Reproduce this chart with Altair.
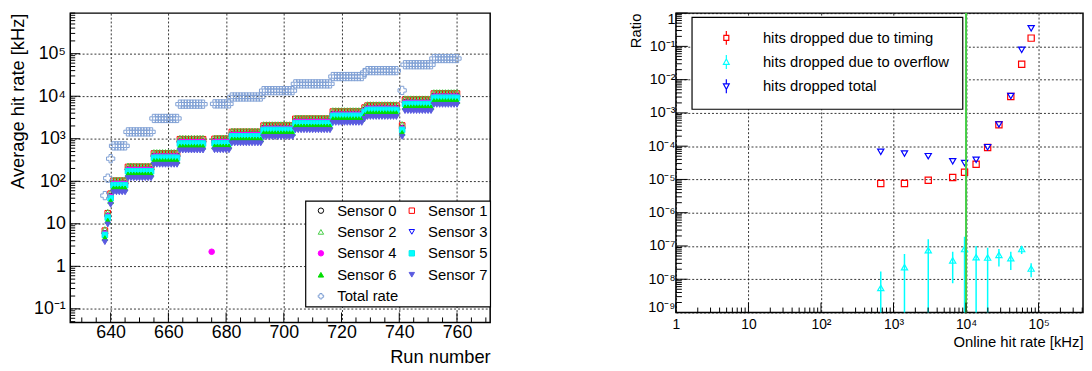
import altair as alt
import pandas as pd

# ---------------- left panel: average hit rate per run ----------------
RUN_START = [638, 639, 640, 641, 646, 655, 664, 676, 682, 693, 704, 717, 728, 729, 741, 742, 752]
RUN_END = [638, 639, 640, 645, 654, 663, 672, 681, 692, 703, 716, 727, 728, 739, 741, 751, 760]
TOTAL_RATE = [46, 118, 340, 680, 1450, 3000, 6500, 6600, 9600, 13500, 19500, 29000, 36000, 40000, 13700, 55000, 77000]
SENSOR_0 = [6.0, 15.5, 44.6, 89, 190, 394, 853, 866, 1260, 1775, 2560, 3810, 4725, 5250, 1795, 7220, 10100]
SENSOR_1 = [6.9, 17.7, 51, 102, 217, 450, 974, 990, 1440, 2030, 2930, 4350, 5400, 6000, 2050, 8250, 11550]
SENSOR_2 = [7.5, 19.2, 55, 110, 235, 488, 1055, 1073, 1560, 2200, 3170, 4710, 5850, 6500, 2220, 8940, 12500]
SENSOR_3 = [5.2, 13.3, 38, 76, 163, 338, 731, 743, 1080, 1520, 2200, 3260, 4050, 4500, 1540, 6190, 8660]
SENSOR_4 = [5.9, 15.0, 43.4, 87, 185, 383, 828, 842, 1224, 1724, 2489, 3698, 4590, 5100, 1744, 7013, 9818]
SENSOR_5 = [5.5, 14.0, 40, 81, 172, 356, 771, 784, 1140, 1605, 2320, 3440, 4275, 4750, 1625, 6530, 9140]
SENSOR_6 = [4.6, 11.8, 34, 68, 145, 300, 650, 660, 960, 1350, 1950, 2900, 3600, 4000, 1370, 5500, 7700]
SENSOR_7 = [3.7, 9.6, 28, 55, 118, 244, 528, 536, 780, 1100, 1585, 2360, 2925, 3250, 1110, 4470, 6260]
EXTRA_RUN = [675]
EXTRA_SERIES = ["Sensor 4"]
EXTRA_VALUE = [2.2]

SERIES = ["Sensor 0", "Sensor 1", "Sensor 2", "Sensor 3", "Sensor 4",
          "Sensor 5", "Sensor 6", "Sensor 7", "Total rate"]
SERIES_VALUES = [SENSOR_0, SENSOR_1, SENSOR_2, SENSOR_3, SENSOR_4,
                 SENSOR_5, SENSOR_6, SENSOR_7, TOTAL_RATE]
SHAPES = ["circle", "square", "triangle-up", "triangle-down", "circle",
          "square", "triangle-up", "triangle-down", "cross"]
STROKES = ["#000000", "#ff0000", "#44cc44", "#0000ff", "#ff00ff",
           "#00eeee", "#00dd00", "#5a5ae0", "#7f9fd4"]
FILLS = ["transparent", "transparent", "transparent", "transparent", "#ff00ff",
         "#00ffff", "#00dd00", "#5a5ae0", "transparent"]

X1_MAJOR = [640, 660, 680, 700, 720, 740, 760]
Y1_MAJOR = [0.1, 1, 10, 100, 1e3, 1e4, 1e5]
Y1_LABELS = ["10⁻¹", "1", "10", "10²", "10³", "10⁴", "10⁵"]

# ---------------- right panel: dropped-hit ratios ----------------
ONLINE_RATE = [667, 1416, 3013, 6546, 9540, 13770, 19850, 28400, 41400, 58500, 79000]
TIMING = [7.6e-6, 7.6e-6, 9.5e-6, 1.14e-5, 1.65e-5, 2.85e-5, 9.1e-5, 4.4e-4, 3.1e-3, 0.029, 0.177]
TOTAL_DROPPED = [6.8e-5, 6.0e-5, 5.0e-5, 3.5e-5, 3.1e-5, 3.9e-5, 9.3e-5, 4.5e-4, 3.2e-3, 0.079, 0.35]
OVERFLOW = [5.5e-9, 2.3e-8, 7.5e-8, 3.7e-8, 8.1e-8, 4.6e-8, 4.5e-8, 5.4e-8, 4.3e-8, 8.1e-8, 2.1e-8]
OVERFLOW_LO = [1e-10, 1e-10, 1e-10, 7.6e-9, 1e-10, 1e-10, 1e-10, 2.4e-8, 1.9e-8, 5.7e-8, 1.15e-8]
OVERFLOW_HI = [1.7e-8, 5.7e-8, 1.6e-7, 6.7e-8, 1.9e-7, 1.0e-7, 8.9e-8, 8.1e-8, 6.7e-8, 1.0e-7, 3.0e-8]
GREEN_LINE_X = [1e4]

KINDS = ["hits dropped due to timing", "hits dropped due to overflow", "hits dropped total"]
KIND_COLORS = ["#ff0000", "#00ffff", "#0000ff"]
KIND_SHAPES = ["square", "triangle-up", "triangle-down"]
# legend symbols: marker with its error-bar stem
KIND_LEGEND_SHAPES = [
    "M-0.36,-0.36L0.36,-0.36L0.36,0.36L-0.36,0.36Z M0,-1L0,-0.36 M0,0.36L0,1",
    "M0,-0.45L0.42,0.33L-0.42,0.33Z M0,-1L0,-0.45 M0,0.33L0,1",
    "M0,0.45L0.42,-0.33L-0.42,-0.33Z M0,1L0,0.45 M0,-0.33L0,-1",
]

X2_MAJOR = [1, 10, 100, 1e3, 1e4, 1e5]
X2_LABELS = ["1", "10", "10²", "10³", "10⁴", "10⁵"]
Y2_MAJOR = [1e-9, 1e-8, 1e-7, 1e-6, 1e-5, 1e-4, 1e-3, 1e-2, 1e-1, 1]
Y2_LABELS = ["10⁻⁹", "10⁻⁸", "10⁻⁷", "10⁻⁶", "10⁻⁵", "10⁻⁴", "10⁻³", "10⁻²", "10⁻¹", "1"]

FONT = "Liberation Sans"


def label_expr(values, labels):
    expr = f"'{labels[-1]}'"
    for v, lab in reversed(list(zip(values[:-1], labels[:-1]))):
        expr = f"datum.value < {v * 3.0!r} ? '{lab}' : ({expr})"
    return expr


def log_minor(dmin, dmax, d0, d1):
    return [k * 10.0 ** d for d in range(d0, d1) for k in range(2, 10)
            if dmin <= k * 10.0 ** d <= dmax]


# ---------- left panel ----------
W1, H1 = 425, 313
XDOM1 = [626, 771.5]
YDOM1 = [0.048, 9e5]

rows = []
for s, vals in zip(SERIES, SERIES_VALUES):
    for a, b, v in zip(RUN_START, RUN_END, vals):
        for r in range(a, b + 1):
            rows.append({"run": r, "value": v, "series": s})
for r, s, v in zip(EXTRA_RUN, EXTRA_SERIES, EXTRA_VALUE):
    rows.append({"run": r, "value": v, "series": s})
df1 = pd.DataFrame(rows)

X1 = alt.X("run:Q", scale=alt.Scale(domain=XDOM1, nice=False, zero=False),
           axis=alt.Axis(values=X1_MAJOR, title="Run number", labelFontSize=18,
                         labelPadding=1, titleFontSize=18.5, titleAnchor="end",
                         titleBaseline="top", titleY=26, grid=True))
Y1 = alt.Y("value:Q", scale=alt.Scale(type="log", domain=YDOM1, nice=False),
           axis=alt.Axis(values=Y1_MAJOR, labelExpr=label_expr(Y1_MAJOR, Y1_LABELS),
                         title="Average hit rate [kHz]", labelFontSize=18,
                         labelPadding=5, titleFontSize=18.5, titleAnchor="end",
                         titleAlign="right", titleX=-43, titleY=0, grid=True))

pts1 = alt.Chart(df1).mark_point(opacity=1, strokeWidth=1).encode(
    x=X1, y=Y1,
    shape=alt.Shape("series:N", scale=alt.Scale(domain=SERIES, range=SHAPES),
                    legend=alt.Legend(title=None, orient="none", legendX=238, legendY=190,
                                      direction="horizontal", columns=2, padding=2.2,
                                      rowPadding=5.7, columnPadding=0, symbolOffset=6,
                                      labelOffset=9, symbolSize=30, symbolStrokeWidth=1,
                                      labelFontSize=15, strokeColor="black",
                                      fillColor="white", labelLimit=300)),
    stroke=alt.Stroke("series:N", scale=alt.Scale(domain=SERIES, range=STROKES)),
    fill=alt.Fill("series:N", scale=alt.Scale(domain=SERIES, range=FILLS)),
    size=alt.condition("datum.series == 'Total rate'", alt.value(70), alt.value(32)),
)

x1_minor = pd.DataFrame({"run": [v for v in range(630, 771, 5) if v % 20 != 0]})
x1_major = pd.DataFrame({"run": X1_MAJOR})
y1_minor = pd.DataFrame({"value": log_minor(YDOM1[0], YDOM1[1], -2, 6)})
y1_major = pd.DataFrame({"value": Y1_MAJOR})

t1 = [
    alt.Chart(x1_minor).mark_rule(color="black").encode(x=X1, y=alt.value(H1), y2=alt.value(H1 - 5)),
    alt.Chart(x1_major).mark_rule(color="black").encode(x=X1, y=alt.value(H1), y2=alt.value(H1 - 10)),
    alt.Chart(y1_minor).mark_rule(color="black").encode(y=Y1, x=alt.value(0), x2=alt.value(5)),
    alt.Chart(y1_major).mark_rule(color="black").encode(y=Y1, x=alt.value(0), x2=alt.value(10)),
]

left = alt.layer(pts1, *t1).properties(width=W1, height=H1)

# ---------- right panel ----------
W2, H2 = 412, 303
XDOM2 = [1, 4.1e5]
YDOM2 = [1e-9, 1]

rows2 = []
for k, vals in zip(KINDS, [TIMING, OVERFLOW, TOTAL_DROPPED]):
    for x, v in zip(ONLINE_RATE, vals):
        rows2.append({"rate": x, "ratio": v, "kind": k, "legend_kind": k})
df2 = pd.DataFrame(rows2)
err = pd.DataFrame({"rate": ONLINE_RATE, "ratio": OVERFLOW_LO, "ratio_hi": OVERFLOW_HI})

X2 = alt.X("rate:Q", scale=alt.Scale(type="log", domain=XDOM2, nice=False),
           axis=alt.Axis(values=X2_MAJOR, labelExpr=label_expr(X2_MAJOR, X2_LABELS),
                         title="Online hit rate [kHz]", labelFontSize=14,
                         labelPadding=5, titleFontSize=15, titleAnchor="end",
                         titleBaseline="top", titleY=22, grid=True))
Y2 = alt.Y("ratio:Q", scale=alt.Scale(type="log", domain=YDOM2, nice=False),
           axis=alt.Axis(values=Y2_MAJOR, labelExpr=label_expr(Y2_MAJOR, Y2_LABELS),
                         title="Ratio", labelFontSize=14.5, labelPadding=1,
                         labelBaseline={"condition": {"test": "datum.value >= 0.5", "value": "top"},
                                        "value": "middle"},
                         labelOffset={"condition": {"test": "datum.value < 2e-9", "value": -5},
                                      "value": 0},
                         titleFontSize=15, titleAnchor="end", titleAlign="right",
                         titleX=-33, titleY=0, grid=True))

errbars = alt.Chart(err).mark_rule(color="#00ffff", strokeWidth=1.5, clip=True).encode(
    x=X2, y=Y2, y2="ratio_hi:Q")

pts2 = alt.Chart(df2).mark_point(opacity=1, strokeWidth=1.2, size=40, filled=False).encode(
    x=X2, y=Y2,
    shape=alt.Shape("kind:N", scale=alt.Scale(domain=KINDS, range=KIND_SHAPES), legend=None),
    stroke=alt.Stroke("kind:N", scale=alt.Scale(domain=KINDS, range=KIND_COLORS), legend=None),
)

# legend-only layer (draws no marks; its scales give the legend with stems)
legend_layer = alt.Chart(df2).transform_filter("false").mark_point(
    opacity=1, strokeWidth=1.2, size=196, filled=False).encode(
    x=X2, y=Y2,
    shape=alt.Shape("legend_kind:N", scale=alt.Scale(domain=KINDS, range=KIND_LEGEND_SHAPES),
                    legend=alt.Legend(title=None, orient="none", legendX=16, legendY=4,
                                      padding=13, rowPadding=4.5, symbolOffset=14,
                                      labelOffset=29, labelFontSize=15, labelLimit=400,
                                      strokeColor="black", fillColor="white",
                                      symbolStrokeWidth=1.2, symbolSize=196)),
    stroke=alt.Stroke("legend_kind:N", scale=alt.Scale(domain=KINDS, range=KIND_COLORS)),
)

green = alt.Chart(pd.DataFrame({"rate": GREEN_LINE_X})).mark_rule(
    color="#44cc44", strokeWidth=2).encode(x=X2)

x2_minor = pd.DataFrame({"rate": log_minor(XDOM2[0], XDOM2[1], 0, 6)})
x2_major = pd.DataFrame({"rate": X2_MAJOR})
y2_minor = pd.DataFrame({"ratio": log_minor(YDOM2[0], YDOM2[1], -9, 0)})
y2_major = pd.DataFrame({"ratio": Y2_MAJOR})

t2 = [
    alt.Chart(x2_minor).mark_rule(color="black").encode(x=X2, y=alt.value(H2), y2=alt.value(H2 - 5)),
    alt.Chart(x2_major).mark_rule(color="black").encode(x=X2, y=alt.value(H2), y2=alt.value(H2 - 10)),
    alt.Chart(y2_minor).mark_rule(color="black").encode(y=Y2, x=alt.value(0), x2=alt.value(6)),
    alt.Chart(y2_major).mark_rule(color="black").encode(y=Y2, x=alt.value(0), x2=alt.value(12)),
]

right = alt.layer(errbars, pts2, legend_layer, green, *t2).resolve_scale(
    shape="independent", stroke="independent").properties(width=W2, height=H2)

chart = alt.hconcat(left, right, spacing=188, bounds="flush").properties(
    padding={"left": 0, "top": 1, "right": 0, "bottom": 0}
).configure(font=FONT).configure_view(
    stroke="black", strokeWidth=1.5
).configure_axis(
    labelFont=FONT, titleFont=FONT, labelColor="black", titleColor="black",
    titleFontWeight="normal", domain=False, ticks=False, tickSize=0,
    gridColor="black", gridDash=[2, 2], gridOpacity=0.8, gridWidth=1,
    labelOverlap=False, labelFlush=False, labelBound=False,
).configure_legend(labelFont=FONT, labelColor="black", strokeWidth=1.2)

chart.save("out.html", embed_options={"renderer": "svg", "actions": False})
